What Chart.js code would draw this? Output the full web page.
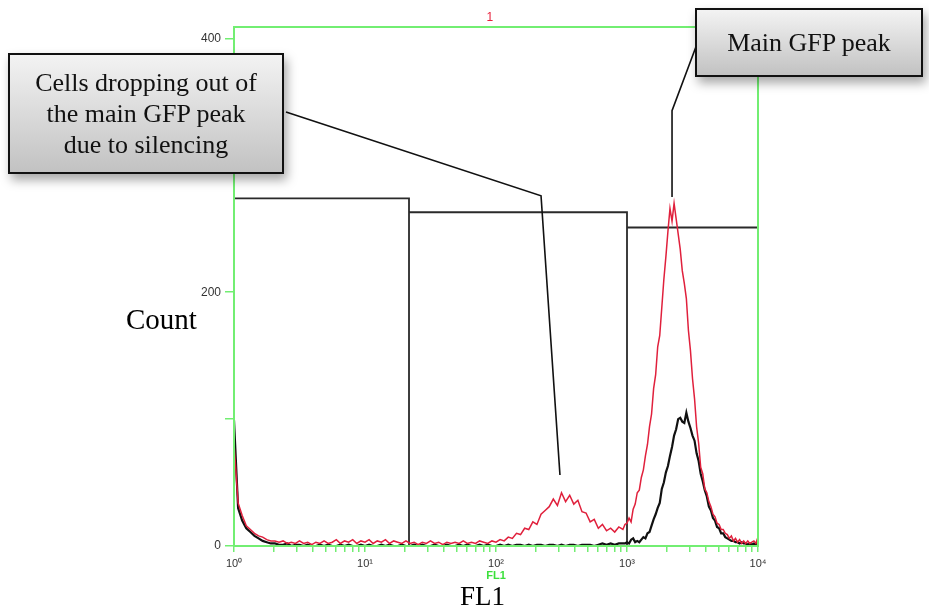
<!DOCTYPE html>
<html>
<head>
<meta charset="utf-8">
<script src="https://cdn.jsdelivr.net/npm/chart.js@4.4.0/dist/chart.umd.min.js"></script>
<style>
  html, body { margin: 0; padding: 0; background: #fff; }
  #wrap { position: relative; width: 929px; height: 611px; overflow: hidden; }
  #chart { position: absolute; left: 0; top: 0; }
  .callout {
    position: absolute; box-sizing: border-box;
    border: 2px solid #111;
    background: linear-gradient(#f3f3f3, #c2c2c2);
    box-shadow: 3px 6px 10px rgba(0, 0, 0, 0.35);
    font: 26px "Liberation Serif", "Times New Roman", serif;
    color: #111; text-align: center; line-height: 31px;
    display: flex; align-items: center; justify-content: center;
  }
  .axlabel { position: absolute; font: 27px "Liberation Serif", serif; color: #000; line-height: 27px; white-space: nowrap; }
</style>
</head>
<body>
<div id="wrap">
  <canvas id="chart" width="929" height="611"></canvas>
  <div class="callout" style="left:8px; top:53px; width:276px; height:121px;">Cells dropping out of<br>the main GFP peak<br>due to silencing</div>
  <div class="callout" style="left:695px; top:8px; width:228px; height:69px;">Main GFP peak</div>
  <div class="axlabel" style="left:126px; top:306px; font-size:29px;">Count</div>
  <div class="axlabel" style="left:460px; top:583px;">FL1</div>
</div>
<script>
// FL1 channel (256 channels per decade, 0 = 10^0, 1024 = 10^4)
const channels = [
  0, 8, 16, 24, 32, 40, 48, 56, 64, 72, 80, 88, 96, 104, 112, 120,
  128, 136, 144, 152, 160, 168, 176, 184, 192, 200, 208, 216, 224, 232, 240, 248,
  256, 264, 272, 280, 288, 296, 304, 312, 320, 328, 336, 344, 352, 360, 368, 376,
  384, 392, 400, 408, 416, 424, 432, 440, 448, 456, 464, 472, 480, 488, 496, 504,
  512, 520, 528, 536, 544, 552, 560, 568, 576, 584, 592, 600, 608, 616, 624, 632,
  640, 648, 656, 664, 672, 680, 688, 696, 704, 712, 720, 728, 736, 744, 752, 760,
  764, 768, 772, 776, 780, 784, 788, 792, 796, 800,
  804, 808, 812, 816, 820, 824, 828, 832, 836, 840,
  844, 848, 852, 856, 860, 864, 868, 872, 876, 880,
  884, 888, 892, 896, 900, 904, 908, 912, 916, 920,
  924, 928, 932, 936, 940, 944, 948, 952, 956, 960,
  964, 968, 972, 976, 980, 984, 988, 992, 996, 1000,
  1004, 1008, 1012, 1016, 1020, 1023
];

// red histogram (sample with silenced cells)
const redCounts = [
  81, 34, 24, 16, 13, 10, 8, 7, 5, 4, 4, 3, 4, 2, 3, 2,
  4, 2, 3, 1, 3, 2, 4, 2, 3, 5, 2, 4, 3, 5, 2, 4,
  3, 5, 2, 4, 3, 5, 2, 4, 3, 2, 4, 2, 3, 1, 3, 2,
  4, 2, 3, 1, 3, 2, 3, 2, 4, 2, 3, 2, 4, 3, 2, 4,
  3, 5, 4, 7, 6, 10, 9, 14, 13, 19, 17, 25, 28, 31, 37, 32,
  42, 35, 40, 33, 36, 27, 26, 19, 21, 14, 17, 12, 14, 11, 15, 13,
  17, 18, 22, 19, 29, 33, 42, 44, 54, 60,
  71, 80, 94, 104, 124, 135, 157, 166, 188, 210,
  228, 248, 266, 256, 270, 258, 246, 234, 217, 207,
  195, 170, 154, 132, 116, 94, 81, 62, 57, 45,
  42, 35, 31, 25, 23, 18, 17, 13, 13, 10,
  9, 6, 8, 4, 6, 3, 5, 2, 4, 2,
  4, 2, 3, 4, 2, 6
];

// black histogram (reference sample)
const blackCounts = [
  99, 30, 20, 14, 11, 8, 6, 4, 3, 2, 2, 1, 1, 2, 0, 1,
  1, 0, 1, 0, 0, 1, 0, 1, 0, 0, 1, 0, 1, 0, 0, 1,
  0, 1, 0, 0, 1, 0, 1, 0, 0, 1, 0, 0, 1, 0, 1, 0,
  0, 1, 0, 0, 1, 0, 0, 1, 0, 1, 0, 0, 1, 0, 1, 0,
  0, 1, 0, 1, 0, 1, 1, 0, 1, 0, 1, 1, 0, 1, 1, 0,
  1, 0, 1, 1, 0, 1, 1, 1, 0, 1, 2, 1, 2, 1, 2, 2,
  2, 3, 2, 5, 6, 3, 4, 3, 5, 7,
  6, 10, 11, 16, 21, 25, 30, 34, 45, 50,
  58, 63, 71, 78, 87, 92, 100, 101, 98, 97,
  105, 98, 93, 87, 83, 73, 67, 57, 51, 44,
  39, 31, 28, 22, 20, 15, 14, 10, 10, 7,
  6, 5, 4, 4, 3, 3, 2, 3, 2, 2,
  1, 2, 1, 2, 1, 2
];

const yTickValues = [0, 100, 200, 300, 400];
const yTickLabels = ['0', '', '200', '', '400'];
const decadeLabels = ['10\u2070', '10\u00b9', '10\u00b2', '10\u00b3', '10\u2074'];

// gate markers: edges in channels, heights in counts
const gateEdges = [0, 342, 768, 1024];
const gateHeights = [274, 263, 251];

// leader lines: [tip, elbow] in data coords
const leaderSilenced = [{ x: 637, y: 56 }, { x: 600, y: 276 }];
const leaderMain = [{ x: 856, y: 275 }, { x: 856, y: 343 }];

const GREEN = '#72ee72';

const toPoints = ys => channels.map((c, i) => ({ x: c, y: ys[i] }));

const gatePoints = [];
gateHeights.forEach((h, i) => {
  gatePoints.push({ x: gateEdges[i], y: h }, { x: gateEdges[i + 1], y: h });
  if (i < gateHeights.length - 1) gatePoints.push({ x: gateEdges[i + 1], y: 0 });
  gatePoints.push({ x: gateEdges[i + 1], y: null });
});

const minorTicks = [];
for (let d = 0; d < 4; d++) {
  minorTicks.push(d * 256);
  for (let k = 2; k <= 9; k++) minorTicks.push(256 * (d + Math.log10(k)));
}
minorTicks.push(1024);

const decorations = {
  id: 'decorations',
  afterDatasetsDraw(chart) {
    const { ctx, chartArea: a, scales: { x, y } } = chart;
    ctx.save();
    ctx.strokeStyle = GREEN;
    ctx.lineWidth = 2;
    ctx.strokeRect(a.left, a.top, a.right - a.left, a.bottom - a.top);

    ctx.fillStyle = '#e8203c';
    ctx.font = '12px "Liberation Sans", Arial, sans-serif';
    ctx.textAlign = 'center';
    ctx.textBaseline = 'middle';
    ctx.fillText('1', x.getPixelForValue(500), 18);

    ctx.strokeStyle = '#111';
    ctx.lineWidth = 1.6;
    const px = p => [x.getPixelForValue(p.x), y.getPixelForValue(p.y)];
    ctx.beginPath();
    ctx.moveTo(...px(leaderSilenced[0]));
    ctx.lineTo(...px(leaderSilenced[1]));
    ctx.lineTo(286, 112);
    ctx.stroke();
    ctx.beginPath();
    ctx.moveTo(...px(leaderMain[0]));
    ctx.lineTo(...px(leaderMain[1]));
    ctx.lineTo(697, 44);
    ctx.stroke();
    ctx.restore();
  }
};

new Chart(document.getElementById('chart'), {
  type: 'line',
  data: {
    datasets: [
      { label: 'red', data: toPoints(redCounts), borderColor: '#e0203c', borderWidth: 1.5, pointRadius: 0 },
      { label: 'black', data: toPoints(blackCounts), borderColor: '#111', borderWidth: 2.2, pointRadius: 0 },
      { label: 'gates', data: gatePoints, borderColor: '#2a2a2a', borderWidth: 1.8, pointRadius: 0, spanGaps: false }
    ]
  },
  options: {
    responsive: false,
    animation: false,
    layout: { padding: { top: 27, right: 171, left: 0, bottom: 0 } },
    plugins: { legend: { display: false }, tooltip: { enabled: false } },
    scales: {
      x: {
        type: 'linear', min: 0, max: 1024,
        afterBuildTicks: s => { s.ticks = minorTicks.map(v => ({ value: v })); },
        afterFit: s => { s.height = 65; },
        border: { display: false },
        grid: { drawOnChartArea: false, drawTicks: true, tickLength: 6, color: GREEN, lineWidth: 1.5 },
        ticks: {
          autoSkip: false, maxRotation: 0, padding: 5, color: '#333',
          font: { family: '"Liberation Sans", Arial, sans-serif', size: 11 },
          callback: v => (v % 256 === 0 ? decadeLabels[v / 256] : '')
        },
        title: {
          display: true, text: 'FL1', color: '#3be03b',
          font: { family: '"Liberation Sans", Arial, sans-serif', size: 11, weight: 'bold' },
          padding: { top: 0, bottom: 28 }
        }
      },
      y: {
        min: 0, max: 409,
        afterBuildTicks: s => { s.ticks = yTickValues.map(v => ({ value: v })); },
        afterFit: s => { s.width = 234; },
        border: { display: false },
        grid: { drawOnChartArea: false, drawTicks: true, tickLength: 9, color: GREEN, lineWidth: 1.5 },
        ticks: {
          padding: 4, color: '#333',
          font: { family: '"Liberation Sans", Arial, sans-serif', size: 12 },
          callback: (v, i) => yTickLabels[i]
        }
      }
    }
  },
  plugins: [decorations]
});
</script>
</body>
</html>
